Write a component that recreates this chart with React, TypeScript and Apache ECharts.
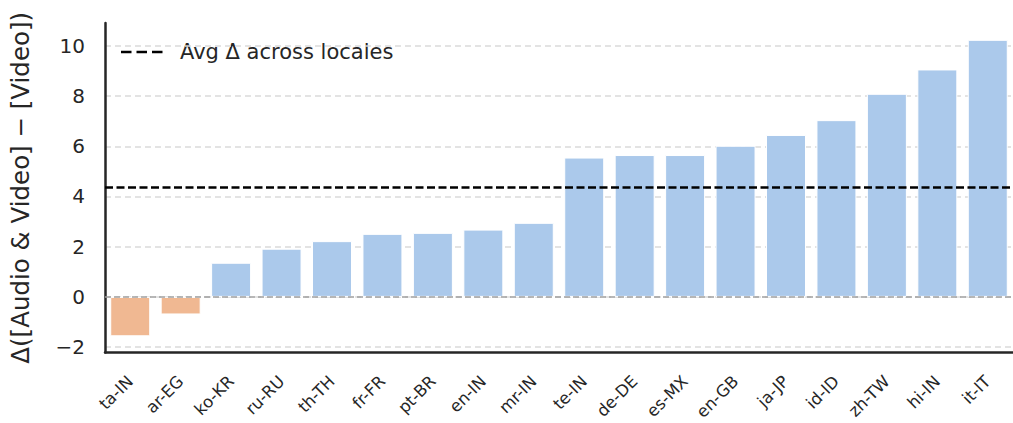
import React, { useEffect, useRef } from "react";
import * as echarts from "echarts";

const locales = ["ta-IN", "ar-EG", "ko-KR", "ru-RU", "th-TH", "fr-FR", "pt-BR", "en-IN", "mr-IN", "te-IN", "de-DE", "es-MX", "en-GB", "ja-JP", "id-ID", "zh-TW", "hi-IN", "it-IT"];
const deltas = [-1.57, -0.7, 1.36, 1.92, 2.22, 2.51, 2.55, 2.68, 2.95, 5.55, 5.65, 5.65, 6.02, 6.45, 7.04, 8.09, 9.06, 10.24];
const avgDelta = 4.37;
const yTicks = [-2, 0, 2, 4, 6, 8, 10];
const yName = "Δ([Audio & Video] − [Video])";
const legendLabel = "Avg Δ across locales";

const BLUE = "#abc9eb";
const ORANGE = "#f0b892";
const INK = "#262626";
const FONT = "DejaVu Sans";

export default function App() {
  const ref = useRef<HTMLDivElement>(null);
  useEffect(() => {
    if (!ref.current) return;
    const chart = echarts.init(ref.current, undefined, { renderer: "svg" });
    chart.setOption({
      animation: false,
      backgroundColor: "#ffffff",
      textStyle: { fontFamily: FONT, color: INK },
      grid: { left: 101, top: 23, width: 920, height: 330, containLabel: false },
      xAxis: {
        type: "category",
        data: locales,
        axisLine: { show: true, onZero: false, lineStyle: { color: INK, width: 2.5 } },
        axisTick: { show: false },
        axisLabel: { show: true, rotate: 45, fontSize: 16.5, color: INK, margin: 26, fontFamily: FONT, interval: 0 },
        splitLine: { show: false },
      },
      yAxis: {
        type: "value",
        min: -2.22,
        max: 10.91,
        name: yName,
        nameLocation: "middle",
        nameRotate: 90,
        nameGap: 72,
        nameTextStyle: { fontSize: 24.5, color: INK, fontFamily: FONT },
        axisLine: { show: true, lineStyle: { color: INK, width: 2.5 } },
        axisTick: { show: false, customValues: yTicks },
        axisLabel: {
          fontSize: 20,
          color: INK,
          margin: 20,
          fontFamily: FONT,
          customValues: yTicks,
          formatter: (v: number) => String(v).replace("-", "\u2212"),
        },
        splitLine: { show: true, lineStyle: { color: "#dadada", width: 1.5, type: [6, 4] } },
      },
      series: [
        {
          type: "bar",
          data: deltas.map((v) => ({ value: v, itemStyle: { color: v < 0 ? ORANGE : BLUE } })),
          barWidth: 40,
          itemStyle: { borderColor: "#ffffff", borderWidth: 1 },
          markLine: {
            silent: true,
            symbol: "none",
            label: { show: false },
            data: [
              { yAxis: 0, lineStyle: { color: "#a0a0a0", width: 1.5, type: [6, 3] } },
              { yAxis: avgDelta, lineStyle: { color: "#000000", width: 2.6, type: [8, 3.5] } },
            ],
          },
        },
      ],
      graphic: [
        {
          type: "line",
          shape: { x1: 121, y1: 52, x2: 163, y2: 52 },
          style: { stroke: "#000000", lineWidth: 2.6, lineDash: [10.5, 5] },
        },
        {
          type: "text",
          x: 180,
          y: 52,
          style: { text: legendLabel, fontSize: 21, fill: INK, fontFamily: FONT, verticalAlign: "middle" },
        },
      ],
    });
    return () => chart.dispose();
  }, []);
  return <div ref={ref} style={{ position: "absolute", left: 0, top: 0, width: 1013, height: 423 }} />;
}
